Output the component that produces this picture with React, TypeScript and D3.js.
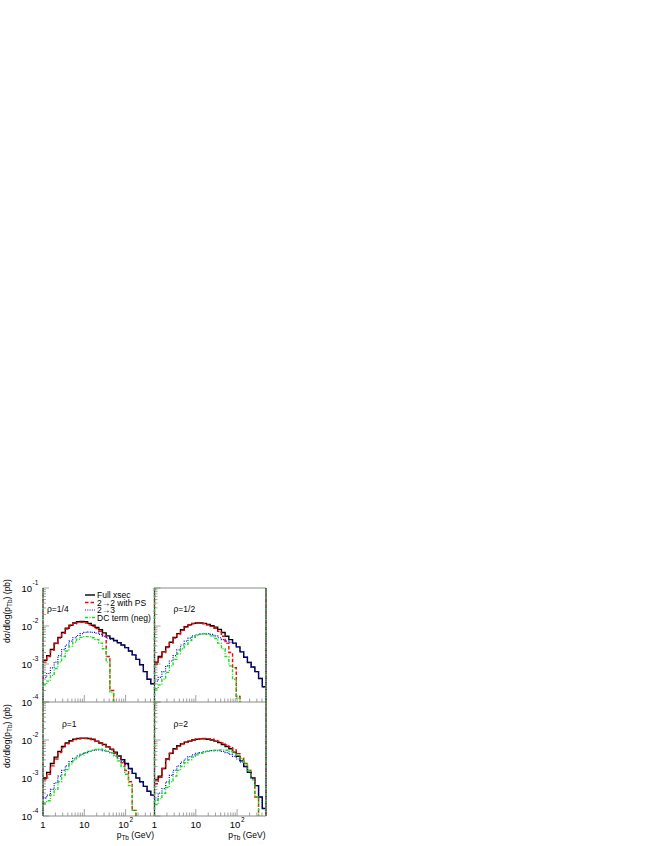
import * as d3 from 'd3'

// pT range and cross-section range (pb) shared by all four panels
const X_MIN = 1
const X_MAX = 500
const Y_MIN = 1e-4
const Y_MAX = 1e-1
const N_BINS = 30

const PANEL_LABELS = ['ρ=1/4', 'ρ=1/2', 'ρ=1', 'ρ=2']
const LEGEND_LABELS = ['Full xsec', '2→2 with PS', '2→3', 'DC term (neg)']
const Y_EXPONENTS_TOP = [-1, -2, -3, -4]
const Y_EXPONENTS_BOTTOM = [-2, -3, -4]
const X_MAJOR_TICKS = [1, 10, 100]

// rho = 1/4
const fullRho14 = [
  1.26e-3, 1.66e-3, 2.4e-3, 3.55e-3, 5.01e-3, 6.76e-3, 8.71e-3, 1.05e-2, 1.2e-2, 1.29e-2,
  1.32e-2, 1.29e-2, 1.17e-2, 1.05e-2, 9.12e-3, 7.94e-3, 6.61e-3, 5.5e-3, 4.68e-3, 4.17e-3,
  3.63e-3, 3.16e-3, 2.69e-3, 2.19e-3, 1.74e-3, 1.32e-3, 9.55e-4, 6.31e-4, 3.98e-4, 3.02e-4,
]
const psRho14 = [
  1.12e-3, 1.58e-3, 2.29e-3, 3.39e-3, 4.79e-3, 6.46e-3, 8.32e-3, 1.0e-2, 1.15e-2, 1.23e-2,
  1.26e-2, 1.2e-2, 1.07e-2, 9.77e-3, 8.51e-3, 7.24e-3, 5.62e-3, 1.58e-3, 2.0e-4, 0,
  0, 0, 0, 0, 0, 0, 0, 0, 0, 0,
]
const realRho14 = [
  4.47e-4, 5.62e-4, 7.94e-4, 1.12e-3, 1.66e-3, 2.4e-3, 3.16e-3, 3.98e-3, 4.9e-3, 5.62e-3,
  6.31e-3, 6.76e-3, 6.92e-3, 6.76e-3, 6.46e-3, 6.03e-3, 5.37e-3, 4.79e-3, 4.47e-3, 4.07e-3,
  3.63e-3, 3.16e-3, 2.69e-3, 2.19e-3, 1.74e-3, 1.32e-3, 9.55e-4, 6.31e-4, 3.98e-4, 3.02e-4,
]
const dcRho14 = [
  2.82e-4, 3.55e-4, 5.01e-4, 7.59e-4, 1.12e-3, 1.58e-3, 2.19e-3, 2.95e-3, 3.72e-3, 4.47e-3,
  5.01e-3, 5.25e-3, 5.25e-3, 4.9e-3, 4.37e-3, 3.55e-3, 2.51e-3, 1.12e-3, 1.78e-4, 0,
  0, 0, 0, 0, 0, 0, 0, 0, 0, 0,
]

// rho = 1/2
const fullRho12 = [
  1.12e-3, 1.58e-3, 2.09e-3, 2.82e-3, 3.72e-3, 5.01e-3, 6.31e-3, 7.94e-3, 9.55e-3, 1.07e-2,
  1.17e-2, 1.2e-2, 1.2e-2, 1.17e-2, 1.1e-2, 1.02e-2, 9.33e-3, 8.13e-3, 6.76e-3, 5.37e-3,
  4.37e-3, 3.55e-3, 2.82e-3, 2.09e-3, 1.51e-3, 1.1e-3, 8.32e-4, 6.31e-4, 4.17e-4, 2.51e-4,
]
const psRho12 = [
  1.0e-3, 1.48e-3, 2.0e-3, 2.69e-3, 3.55e-3, 4.79e-3, 6.17e-3, 7.76e-3, 9.33e-3, 1.05e-2,
  1.15e-2, 1.17e-2, 1.17e-2, 1.15e-2, 1.07e-2, 9.77e-3, 8.71e-3, 7.24e-3, 5.37e-3, 3.55e-3,
  2.0e-3, 7.94e-4, 1.41e-4, 0, 0, 0, 0, 0, 0, 0,
]
const realRho12 = [
  3.55e-4, 4.47e-4, 6.31e-4, 8.91e-4, 1.2e-3, 1.66e-3, 2.34e-3, 3.16e-3, 3.98e-3, 4.79e-3,
  5.5e-3, 5.89e-3, 6.17e-3, 6.31e-3, 6.31e-3, 6.03e-3, 5.5e-3, 4.9e-3, 4.37e-3, 3.98e-3,
  3.72e-3, 3.47e-3, 2.82e-3, 2.09e-3, 1.51e-3, 1.1e-3, 8.32e-4, 6.31e-4, 4.17e-4, 2.51e-4,
]
const dcRho12 = [
  2.24e-4, 2.82e-4, 3.98e-4, 6.03e-4, 8.91e-4, 1.32e-3, 1.86e-3, 2.51e-3, 3.31e-3, 4.17e-3,
  5.01e-3, 5.62e-3, 6.03e-3, 6.17e-3, 6.03e-3, 5.5e-3, 4.68e-3, 3.55e-3, 2.51e-3, 1.58e-3,
  8.91e-4, 3.98e-4, 1.26e-4, 0, 0, 0, 0, 0, 0, 0,
]

// rho = 1
const fullRho1 = [
  1.0e-3, 1.41e-3, 2.4e-3, 3.55e-3, 5.01e-3, 6.76e-3, 8.32e-3, 9.55e-3, 1.05e-2, 1.1e-2,
  1.12e-2, 1.12e-2, 1.1e-2, 1.05e-2, 9.33e-3, 8.32e-3, 7.59e-3, 6.61e-3, 5.75e-3, 4.79e-3,
  3.8e-3, 3.02e-3, 2.4e-3, 1.78e-3, 1.32e-3, 1.0e-3, 7.94e-4, 6.03e-4, 4.47e-4, 3.55e-4,
]
const psRho1 = [
  8.91e-4, 1.26e-3, 2.09e-3, 3.16e-3, 4.68e-3, 6.31e-3, 7.94e-3, 9.33e-3, 1.02e-2, 1.07e-2,
  1.1e-2, 1.1e-2, 1.07e-2, 1.0e-2, 9.12e-3, 8.32e-3, 7.41e-3, 6.46e-3, 5.5e-3, 4.47e-3,
  3.47e-3, 2.51e-3, 1.58e-3, 7.94e-4, 1.41e-4, 0, 0, 0, 0, 0,
]
const realRho1 = [
  2.95e-4, 3.55e-4, 5.01e-4, 7.41e-4, 1.12e-3, 1.58e-3, 2.09e-3, 2.69e-3, 3.31e-3, 3.8e-3,
  4.27e-3, 4.68e-3, 5.01e-3, 5.37e-3, 5.5e-3, 5.5e-3, 5.25e-3, 5.01e-3, 4.57e-3, 3.98e-3,
  3.31e-3, 2.69e-3, 2.24e-3, 1.74e-3, 1.32e-3, 1.0e-3, 7.94e-4, 6.03e-4, 4.47e-4, 3.55e-4,
]
const dcRho1 = [
  2.19e-4, 2.51e-4, 3.55e-4, 5.01e-4, 7.94e-4, 1.2e-3, 1.66e-3, 2.34e-3, 3.02e-3, 3.55e-3,
  4.07e-3, 4.57e-3, 5.01e-3, 5.37e-3, 5.62e-3, 5.75e-3, 5.5e-3, 5.01e-3, 4.57e-3, 3.8e-3,
  2.82e-3, 2.0e-3, 1.26e-3, 6.31e-4, 1.41e-4, 0, 0, 0, 0, 0,
]

// rho = 2
const fullRho2 = [
  8.91e-4, 1.12e-3, 1.78e-3, 3.16e-3, 4.47e-3, 5.89e-3, 7.08e-3, 7.94e-3, 8.71e-3, 9.33e-3,
  1.0e-2, 1.05e-2, 1.07e-2, 1.07e-2, 1.05e-2, 1.0e-2, 9.33e-3, 8.51e-3, 7.59e-3, 6.76e-3,
  5.89e-3, 4.79e-3, 3.72e-3, 2.82e-3, 2.0e-3, 1.41e-3, 1.0e-3, 6.31e-4, 3.16e-4, 1.58e-4,
]
const psRho2 = [
  7.08e-4, 1.05e-3, 1.78e-3, 3.02e-3, 4.37e-3, 5.75e-3, 6.92e-3, 7.94e-3, 8.71e-3, 9.33e-3,
  1.0e-2, 1.05e-2, 1.07e-2, 1.1e-2, 1.07e-2, 1.05e-2, 9.77e-3, 9.12e-3, 8.32e-3, 7.41e-3,
  6.61e-3, 5.5e-3, 4.37e-3, 3.31e-3, 2.4e-3, 1.58e-3, 1.0e-3, 3.16e-4, 0, 0,
]
const realRho2 = [
  2.63e-4, 3.98e-4, 5.25e-4, 7.94e-4, 1.17e-3, 1.58e-3, 2.09e-3, 2.63e-3, 3.16e-3, 3.63e-3,
  4.07e-3, 4.47e-3, 4.68e-3, 4.9e-3, 5.13e-3, 5.25e-3, 5.37e-3, 5.25e-3, 5.01e-3, 4.68e-3,
  4.17e-3, 3.72e-3, 3.16e-3, 2.63e-3, 2.0e-3, 1.41e-3, 1.0e-3, 6.31e-4, 3.16e-4, 1.58e-4,
]
const dcRho2 = [
  2.0e-4, 2.82e-4, 3.98e-4, 5.62e-4, 7.94e-4, 1.12e-3, 1.58e-3, 2.0e-3, 2.51e-3, 3.02e-3,
  3.55e-3, 4.07e-3, 4.47e-3, 4.79e-3, 5.01e-3, 5.25e-3, 5.37e-3, 5.5e-3, 5.5e-3, 5.37e-3,
  5.01e-3, 4.57e-3, 3.98e-3, 3.16e-3, 2.4e-3, 1.58e-3, 8.91e-4, 3.16e-4, 0, 0,
]

const PANEL_SERIES = [
  [fullRho14, psRho14, realRho14, dcRho14],
  [fullRho12, psRho12, realRho12, dcRho12],
  [fullRho1, psRho1, realRho1, dcRho1],
  [fullRho2, psRho2, realRho2, dcRho2],
]

const STYLES = [
  { color: '#000000', dash: undefined, width: 1.4 },
  { color: '#ff0000', dash: '3.5 2', width: 1.4 },
  { color: '#0000ff', dash: '1 1.3', width: 1.2 },
  { color: '#11e011', dash: '3 1.5 1 1.5', width: 1.4 },
]

const FONT = '"Liberation Sans", Arial, Helvetica, sans-serif'
const AXIS_COLOR = '#8a8a8a'

const LEFT = 43
const TOP = 588
const PW = 111.5
const PH = 114

const xScale = d3.scaleLog().domain([X_MIN, X_MAX]).range([0, PW])
const yScale = d3.scaleLog().domain([Y_MIN, Y_MAX]).range([PH, 0])

const logMin = Math.log10(X_MIN)
const logMax = Math.log10(X_MAX)
const binEdges = d3.range(N_BINS + 1).map((i) => Math.pow(10, logMin + ((logMax - logMin) * i) / N_BINS))

const xMinor: number[] = []
for (const dec of [1, 10, 100]) {
  for (let k = 1; k <= 9; k++) {
    if (k * dec <= X_MAX) xMinor.push(k * dec)
  }
}
const yMinor: number[] = []
for (const dec of [1e-4, 1e-3, 1e-2]) {
  for (let k = 2; k <= 9; k++) yMinor.push(k * dec)
}

const stepLine = d3
  .line<[number, number]>()
  .x((d) => xScale(d[0]))
  .y((d) => yScale(d[1] > 0 ? d[1] : 1e-6))
  .curve(d3.curveStepAfter)

function histPoints(values: number[]): [number, number][] {
  const pts: [number, number][] = values.map((v, i) => [binEdges[i], v])
  pts.push([binEdges[N_BINS], values[N_BINS - 1]])
  return pts
}

function Panel({ idx }: { idx: number }) {
  const col = idx % 2
  const row = Math.floor(idx / 2)
  const x0 = LEFT + col * PW
  const y0 = TOP + row * PH
  const series = PANEL_SERIES[idx]
  const clipId = `clip-${idx}`
  return (
    <g transform={`translate(${x0},${y0})`}>
      <defs>
        <clipPath id={clipId}>
          <rect x={0} y={0} width={PW} height={PH} />
        </clipPath>
      </defs>
      {/* frame */}
      <line x1={0} x2={PW} y1={PH} y2={PH} stroke={AXIS_COLOR} strokeWidth={1} />
      {col === 1 && <line x1={PW} x2={PW} y1={0} y2={PH} stroke={AXIS_COLOR} strokeWidth={1} />}
      {idx === 1 && <line x1={-0.5} x2={PW} y1={0} y2={0} stroke={AXIS_COLOR} strokeWidth={1} />}
      {/* x ticks */}
      {xMinor.map((v) => {
        const major = X_MAJOR_TICKS.includes(v)
        return (
          <line
            key={`xt${v}`}
            x1={xScale(v)}
            x2={xScale(v)}
            y1={PH}
            y2={PH - (major ? 7 : 3.5)}
            stroke={AXIS_COLOR}
            strokeWidth={0.8}
          />
        )
      })}
      {/* y ticks */}
      {yMinor.map((v) => (
        <line key={`ym${v}`} x1={0} x2={3} y1={yScale(v)} y2={yScale(v)} stroke={AXIS_COLOR} strokeWidth={0.8} />
      ))}
      {[1e-4, 1e-3, 1e-2, 1e-1].map((v) => (
        <line key={`yM${v}`} x1={0} x2={6} y1={yScale(v)} y2={yScale(v)} stroke={AXIS_COLOR} strokeWidth={0.8} />
      ))}
      {/* histograms */}
      <g clipPath={`url(#${clipId})`}>
        {series.map((values, s) => (
          <path
            key={`h${s}`}
            d={stepLine(histPoints(values)) ?? ''}
            fill="none"
            stroke={STYLES[s].color}
            strokeWidth={STYLES[s].width}
            strokeDasharray={STYLES[s].dash}
          />
        ))}
      </g>
      {/* histogram edges running along the frame */}
      {[0, PW].map((ex) =>
        STYLES.map((st, s) => (
          <line
            key={`e${ex}-${s}`}
            x1={ex}
            x2={ex}
            y1={0}
            y2={PH}
            stroke={st.color}
            strokeWidth={s === 0 ? 0.9 : 1.2}
            strokeDasharray={st.dash}
            opacity={s === 0 ? 0.5 : 0.85}
          />
        ))
      )}
      <text x={col === 0 && row === 0 ? 4 : 19} y={row === 0 ? 24 : 25} fontFamily={FONT} fontSize={8.5} fill="#000">
        {PANEL_LABELS[idx]}
      </text>
    </g>
  )
}

function YLabels({ row }: { row: number }) {
  const y0 = TOP + row * PH
  const exps = row === 0 ? Y_EXPONENTS_TOP : Y_EXPONENTS_BOTTOM
  const titleY = row === 0 ? 611 : 736
  return (
    <g fontFamily={FONT} fill="#000">
      {exps.map((e) => {
        const ty = y0 + yScale(Math.pow(10, e))
        return (
          <g key={`yl${e}`}>
            <text x={32} y={ty + 3.5} fontSize={9.5} textAnchor="end">
              10
            </text>
            <text x={32.5} y={ty - 3} fontSize={6.5}>
              {e}
            </text>
          </g>
        )
      })}
      <text transform={`translate(10,${titleY}) rotate(-90)`} fontSize={8.5} textAnchor="middle">
        dσ/dlog(p<tspan dy={2} fontSize={6.5}>Tb</tspan>
        <tspan dy={-2}>) (pb)</tspan>
      </text>
    </g>
  )
}

function XLabels({ col }: { col: number }) {
  const x0 = LEFT + col * PW
  const yBase = TOP + 2 * PH + 12
  return (
    <g fontFamily={FONT} fill="#000">
      <text x={x0 + xScale(1)} y={yBase} fontSize={9.5} textAnchor="middle">
        1
      </text>
      <text x={x0 + xScale(10)} y={yBase} fontSize={9.5} textAnchor="middle">
        10
      </text>
      <text x={x0 + xScale(100) - 2} y={yBase} fontSize={9.5} textAnchor="middle">
        10
      </text>
      <text x={x0 + xScale(100) + 4} y={yBase - 6} fontSize={6.5}>
        2
      </text>
      <text x={x0 + PW - 0.5} y={yBase + 10} fontSize={8.5} textAnchor="end">
        p<tspan dy={2} fontSize={6.5}>Tb</tspan>
        <tspan dy={-2}> (GeV)</tspan>
      </text>
    </g>
  )
}

function Legend() {
  const lx = 85
  const rows = [595, 602.5, 610, 617.5]
  return (
    <g fontFamily={FONT} fontSize={8.5} fill="#000">
      {LEGEND_LABELS.map((label, i) => (
        <g key={label}>
          <line
            x1={lx}
            x2={lx + 10}
            y1={rows[i]}
            y2={rows[i]}
            stroke={STYLES[i].color}
            strokeWidth={STYLES[i].width}
            strokeDasharray={STYLES[i].dash}
          />
          <text x={lx + 12} y={rows[i] + 3}>
            {label}
          </text>
        </g>
      ))}
    </g>
  )
}

export default function App() {
  return (
    <svg
      width={654}
      height={846}
      viewBox="0 0 654 846"
      style={{ position: 'absolute', left: 0, top: 0, background: '#fff' }}
    >
      {[0, 1, 2, 3].map((i) => (
        <Panel key={i} idx={i} />
      ))}
      <YLabels row={0} />
      <YLabels row={1} />
      <XLabels col={0} />
      <XLabels col={1} />
      <Legend />
    </svg>
  )
}
